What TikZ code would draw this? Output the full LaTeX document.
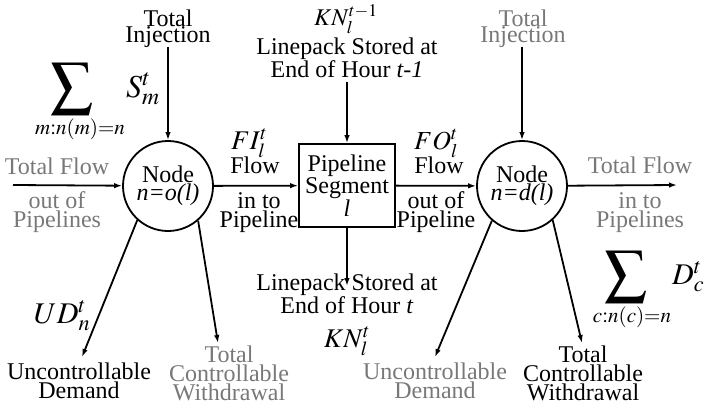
\documentclass[tikz,border=0pt]{standalone}
\usepackage{mathptmx}
\usepackage{graphicx}
\usepackage[no-math]{fontspec}
\setmainfont{Liberation Serif}
\usetikzlibrary{arrows.meta}
\definecolor{lblgray}{RGB}{120,120,120}
\tikzset{
  txt/.style={font=\fontsize{24}{19}\selectfont, inner sep=0pt, align=center, anchor=base},
  gtxt/.style={txt, text=lblgray},
  mth/.style={font=\fontsize{24}{19}\selectfont, inner sep=0pt, anchor=base},
  arr/.style={line width=1.8pt, -{Latex[length=8pt,width=5.5pt]}},
  gnode/.style={circle, draw, line width=1.8pt, minimum size=90pt, inner sep=0pt, align=center, font=\fontsize{24}{18}\selectfont},
  seg/.style={rectangle, draw, line width=1.8pt, minimum width=96pt, minimum height=83pt, inner sep=0pt, align=center, font=\fontsize{24}{19}\selectfont}
}
\newcommand{\bigsigma}[1]{\mathop{\scalebox{1.75}{$\displaystyle\sum$}}\limits_{\mbox{\fontsize{21}{21}\selectfont$#1$}}}
\begin{document}
\begin{tikzpicture}[x=1pt,y=-1pt]
\useasboundingbox (0,0) rectangle (708,412);
% main nodes
\node[gnode] (n1) at (168,186) {Node\\\textit{n=o(l)}};
\node[seg] (seg) at (347,185.5) {Pipeline\\Segment\\\textit{l}};
\node[gnode] (n2) at (522,186) {Node\\\textit{n=d(l)}};
% free ends
\coordinate (inL) at (13,185);
\coordinate (outR) at (677,185);
\coordinate (topL) at (168,47);
\coordinate (topM) at (347,82);
\coordinate (topR) at (522,47);
\coordinate (botM) at (347,286);
\coordinate (udL) at (82,357);
\coordinate (cwL) at (218,343);
\coordinate (udR) at (435,357);
\coordinate (cwR) at (582,343);
% connectors
\draw[arr] (inL) -- (n1);
\draw[arr] (n1) -- (seg);
\draw[arr] (seg) -- (n2);
\draw[arr] (n2) -- (outR);
\draw[arr] (topL) -- (n1);
\draw[arr] (topM) -- (seg);
\draw[arr] (topR) -- (n2);
\draw[arr] (seg) -- (botM);
\draw[arr] (n1.228) -- (udL);
\draw[arr] (n1.311) -- (cwL);
\draw[arr] (n2.229) -- (udR);
\draw[arr] (n2.312) -- (cwR);
% top labels
\node[txt] (tiL) at (168,43) {Total\\[-2pt]Injection};
\node[gtxt] (tiR) at (523,43) {Total\\[-2pt]Injection};
\node[mth] (knp) at (346,26) {$KN_l^{t-1}$};
\node[txt] (lpp) at (347,77) {Linepack Stored at\\[-1pt]End of Hour \textit{t-1}};
\node[mth, anchor=base west, font=\fontsize{32}{32}\selectfont] (sm) at (126,97) {$S_m^t$};
\node[mth, anchor=north] (sumL) at (80,63) {$\bigsigma{m{:}n(m){=}n}$};
% flow labels
\node[mth, anchor=base west, font=\fontsize{27}{27}\selectfont] (fi) at (231,149) {$FI_l^t$};
\node[txt] (fiw) at (255,173) {Flow};
\node[txt] (fib) at (259,227) {in to\\Pipeline};
\node[mth, anchor=base west, font=\fontsize{26}{26}\selectfont] (fo) at (414,149) {$FO_l^t$};
\node[txt] (fow) at (439,173) {Flow};
\node[txt] (fob) at (436,227) {out of\\Pipeline};
\node[gtxt] (tfL) at (57,174) {Total Flow};
\node[gtxt] (tfLb) at (57,227) {out of\\Pipelines};
\node[gtxt] (tfR) at (640,173) {Total Flow};
\node[gtxt] (tfRb) at (640,227) {in to\\Pipelines};
% bottom labels
\node[txt] (lpn) at (347,313) {Linepack Stored at\\[-1pt]End of Hour \textit{t}};
\node[mth, font=\fontsize{27}{27}\selectfont] (knn) at (347,347) {$KN_l^t$};
\node[mth, font=\fontsize{30}{30}\selectfont] (ud) at (62,323) {$UD_n^t$};
\node[txt] (ucL) at (79,398) {Uncontrollable\\Demand};
\node[gtxt] (cwLt) at (229,400) {Total\\Controllable\\Withdrawal};
\node[gtxt] (ucR) at (435,398) {Uncontrollable\\Demand};
\node[txt] (cwRt) at (583,400) {Total\\Controllable\\Withdrawal};
\node[mth, anchor=north] (sumR) at (632,251) {$\bigsigma{c{:}n(c){=}n}$};
\node[mth, anchor=base west, font=\fontsize{30}{30}\selectfont] (dc) at (672,284) {$D_c^t$};
\end{tikzpicture}
\end{document}
